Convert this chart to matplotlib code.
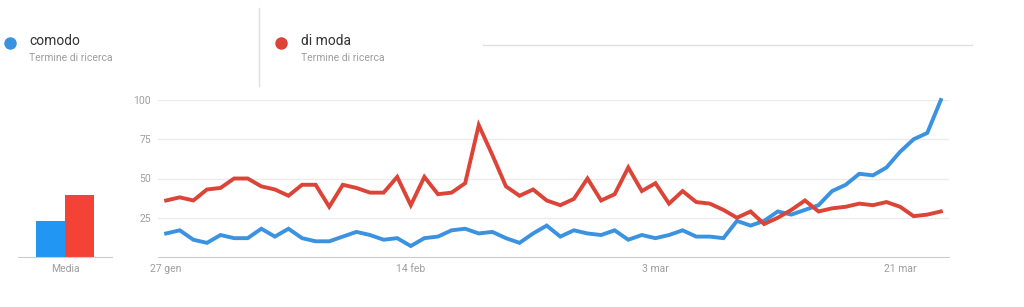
import numpy as np
import matplotlib
matplotlib.use("Agg")
import matplotlib.pyplot as plt

plt.rcParams['font.family'] = ['Roboto', 'DejaVu Sans']

# daily values, 27 gen -> 24 mar (2020)
comodo = [15, 17, 11, 9, 14, 12, 12, 18, 13, 18,
          12, 10, 10, 13, 16, 14, 11, 12, 7, 12,
          13, 17, 18, 15, 16, 12, 9, 15, 20, 13,
          17, 15, 14, 17, 11, 14, 12, 14, 17, 13,
          13, 12, 23, 20, 23, 29, 27, 30, 33, 42,
          46, 53, 52, 57, 67, 75, 79, 100]
di_moda = [36, 38, 36, 43, 44, 50, 50, 45, 43, 39,
           46, 46, 32, 46, 44, 41, 41, 51, 33, 51,
           40, 41, 47, 84, 65, 45, 39, 43, 36, 33,
           37, 50, 36, 40, 57, 42, 47, 34, 42, 35,
           34, 30, 25, 29, 21, 25, 30, 36, 29, 31,
           32, 34, 33, 35, 32, 26, 27, 29]
tick_pos = [0, 18, 36, 54]
tick_labels = ["27 gen", "14 feb", "3 mar", "21 mar"]
y_ticks = [25, 50, 75, 100]
terms = ["comodo", "di moda"]

blue_line = "#3a92e0"
red_line = "#db4437"
blue_bar = "#2196f3"
red_bar = "#f44336"
grey_txt = "#9e9e9e"

W, H = 1024, 307
fig = plt.figure(figsize=(W / 100, H / 100), dpi=100, facecolor="white")

def px(x0, y0, x1, y1):
    return [x0 / W, 1 - y1 / H, (x1 - x0) / W, (y1 - y0) / H]

# line chart
ax = fig.add_axes(px(158, 100, 949, 257))
x = np.arange(len(comodo))
ax.plot(x, comodo, color=blue_line, lw=2.8, solid_joinstyle="miter", clip_on=False, zorder=3)
ax.plot(x, di_moda, color=red_line, lw=2.8, solid_joinstyle="miter", clip_on=False, zorder=3)
ax.set_xlim(-0.6, len(comodo) - 0.4)
ax.set_ylim(0, 100)
ax.set_yticks(y_ticks)
ax.set_xticks(tick_pos, tick_labels)
ax.grid(axis="y", color="#ebebeb", lw=1)
ax.tick_params(length=0, labelsize=7.5, colors=grey_txt)
ax.tick_params(axis="y", pad=5)
ax.tick_params(axis="x", pad=5)
for s in ["top", "right", "left"]:
    ax.spines[s].set_visible(False)
ax.spines["bottom"].set_color("#cccccc")

# average bars
bx = fig.add_axes(px(18, 100, 112, 257))
bx.bar([0, 1], [np.mean(comodo), np.mean(di_moda)], width=1,
       color=[blue_bar, red_bar])
bx.set_xlim(-1.12, 2.12)
bx.set_ylim(0, 100)
bx.set_yticks([])
bx.set_xticks([0.5], ["Media"])
bx.tick_params(length=0, labelsize=7.5, colors=grey_txt, pad=5)
for s in ["top", "right", "left"]:
    bx.spines[s].set_visible(False)
bx.spines["bottom"].set_color("#cccccc")

# header / legend
ov = fig.add_axes([0, 0, 1, 1], facecolor="none")
ov.set_xlim(0, W)
ov.set_ylim(H, 0)
ov.axis("off")
for xd, xt, name, col in [(10, 29, terms[0], blue_line), (281, 301, terms[1], red_line)]:
    ov.plot(xd, 42.5, "o", ms=9, color=col, mec="none")
    ov.text(xt, 41, name, fontsize=10, color="#333333", va="center")
    ov.text(xt, 58, "Termine di ricerca", fontsize=7.5, color=grey_txt, va="center")
ov.plot([259, 259], [8, 86], color="#e0e0e0", lw=1)
ov.plot([483, 972], [44.5, 44.5], color="#e0e0e0", lw=1)

fig.savefig("out.png", dpi=100, facecolor="white")
